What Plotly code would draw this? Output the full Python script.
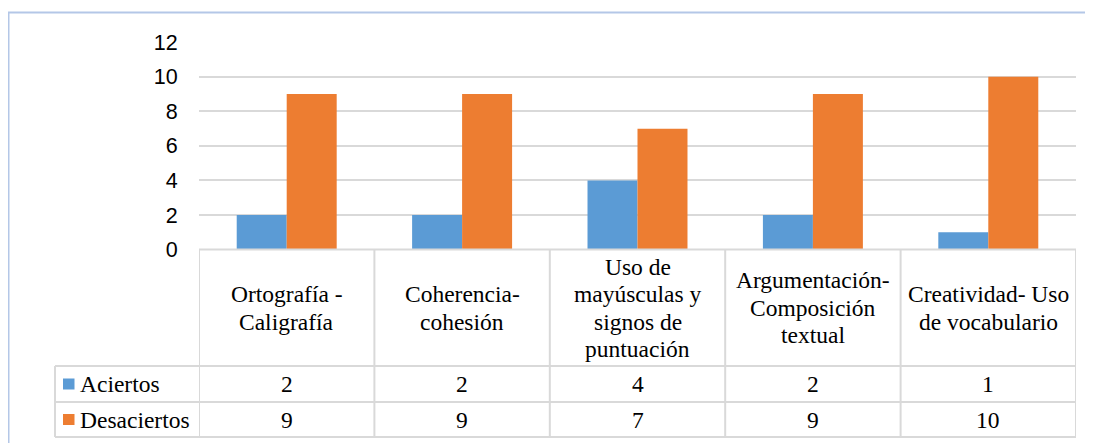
import plotly.graph_objects as go

categories = ["Ortografía -<br>Caligrafía", "Coherencia-<br>cohesión",
              "Uso de<br>mayúsculas y<br>signos de<br>puntuación",
              "Argumentación-<br>Composición<br>textual", "Creatividad- Uso<br>de vocabulario"]
series_names = ["Aciertos", "Desaciertos"]
aciertos = [2, 2, 4, 2, 1]
desaciertos = [9, 9, 7, 9, 10]
colors = ["#5B9BD5", "#ED7D31"]
y_ticks = [0, 2, 4, 6, 8, 10, 12]

# page body margin offset (browser default 8px)
OFF = 8
W, H = 1093 - OFF, 443 - OFF
def px(x):
    return (x - OFF) / W
def py(y):
    return 1 - (y - OFF) / H

PL, PR = 199, 1076
Y0, Y12 = 249.5, 42.3
HDR_BOT, R1_BOT, R2_BOT = 366, 402, 437
LEG_L = 55
GRID = "#D9D9D9"

fig = go.Figure()
series = [aciertos, desaciertos]
for name, vals, c in zip(series_names, series, colors):
    fig.add_trace(go.Bar(x=list(range(len(categories))), y=vals, name=name,
                         marker=dict(color=c, line=dict(width=0))))

shapes = []
# outer chart border
border = "#B4C7E7"
shapes.append(dict(type="line", xref="paper", yref="paper", x0=px(8), x1=1.0,
                   y0=py(12.5), y1=py(12.5), line=dict(color=border, width=2)))
shapes.append(dict(type="line", xref="paper", yref="paper", x0=px(8.5), x1=px(8.5),
                   y0=py(12.5), y1=0, line=dict(color=border, width=2)))
# table horizontal lines
shapes.append(dict(type="line", xref="paper", yref="paper", x0=px(PL), x1=px(PR),
                   y0=py(Y0), y1=py(Y0), line=dict(color=GRID, width=2)))
for yy in [HDR_BOT, R1_BOT, R2_BOT]:
    shapes.append(dict(type="line", xref="paper", yref="paper", x0=px(LEG_L), x1=px(PR),
                       y0=py(yy), y1=py(yy), line=dict(color=GRID, width=2)))
# legend column left edge
shapes.append(dict(type="line", xref="paper", yref="paper", x0=px(LEG_L), x1=px(LEG_L),
                   y0=py(HDR_BOT), y1=py(R2_BOT), line=dict(color=GRID, width=2)))
# category column boundaries
for i in range(len(categories) + 1):
    shapes.append(dict(type="line", xref="x", yref="paper", x0=i - 0.5, x1=i - 0.5,
                       y0=py(Y0), y1=py(R2_BOT), line=dict(color=GRID, width=2)))
# legend keys
row_centers = [(HDR_BOT + R1_BOT) / 2, (R1_BOT + R2_BOT) / 2]
for rc, c in zip(row_centers, colors):
    shapes.append(dict(type="rect", xref="paper", yref="paper", x0=px(63), x1=px(74.5),
                       y0=py(rc + 5.5), y1=py(rc - 5.5), fillcolor=c, line=dict(width=0)))

annotations = []
serif = dict(family="Liberation Serif, Times New Roman, serif", size=23.5, color="#000000")
hdr_center = (Y0 + HDR_BOT) / 2
line_h = 27.5
for i, cat in enumerate(categories):
    lines = cat.split("<br>")
    n = len(lines)
    for k, ln in enumerate(lines):
        yc = hdr_center + (k - (n - 1) / 2) * line_h
        annotations.append(dict(x=i, xref="x", y=py(yc), yref="paper", text=ln,
                                showarrow=False, font=serif, xanchor="center", yanchor="middle"))
for rc, name, vals in zip(row_centers, series_names, series):
    annotations.append(dict(x=px(78), xref="paper", y=py(rc), yref="paper", text=name,
                            showarrow=False, font=serif, xanchor="left", yanchor="middle"))
    for i, v in enumerate(vals):
        annotations.append(dict(x=i, xref="x", y=py(rc), yref="paper", text=str(v),
                                showarrow=False, font=serif, xanchor="center", yanchor="middle"))

fig.update_layout(
    width=W, height=H,
    margin=dict(l=0, r=0, t=0, b=0, pad=0, autoexpand=False),
    paper_bgcolor="white", plot_bgcolor="white",
    showlegend=False,
    barmode="group", bargap=0.43, bargroupgap=0,
    xaxis=dict(domain=[px(PL), px(PR)], range=[-0.5, len(categories) - 0.5], automargin=False,
               showticklabels=False, showgrid=False, zeroline=False, ticks="", fixedrange=True),
    yaxis=dict(domain=[py(Y0), py(Y12)], range=[0, 12], tickvals=y_ticks, automargin=False,
               ticktext=[str(t) for t in y_ticks],
               showgrid=True, gridcolor=GRID, gridwidth=2, zeroline=False,
               tickfont=dict(family="Liberation Sans, Arial, sans-serif", size=21.5, color="#000000"),
               ticks="outside", ticklen=16, tickcolor="rgba(0,0,0,0)", showline=False),
    shapes=shapes, annotations=annotations,
)

fig.write_html("out.html")
